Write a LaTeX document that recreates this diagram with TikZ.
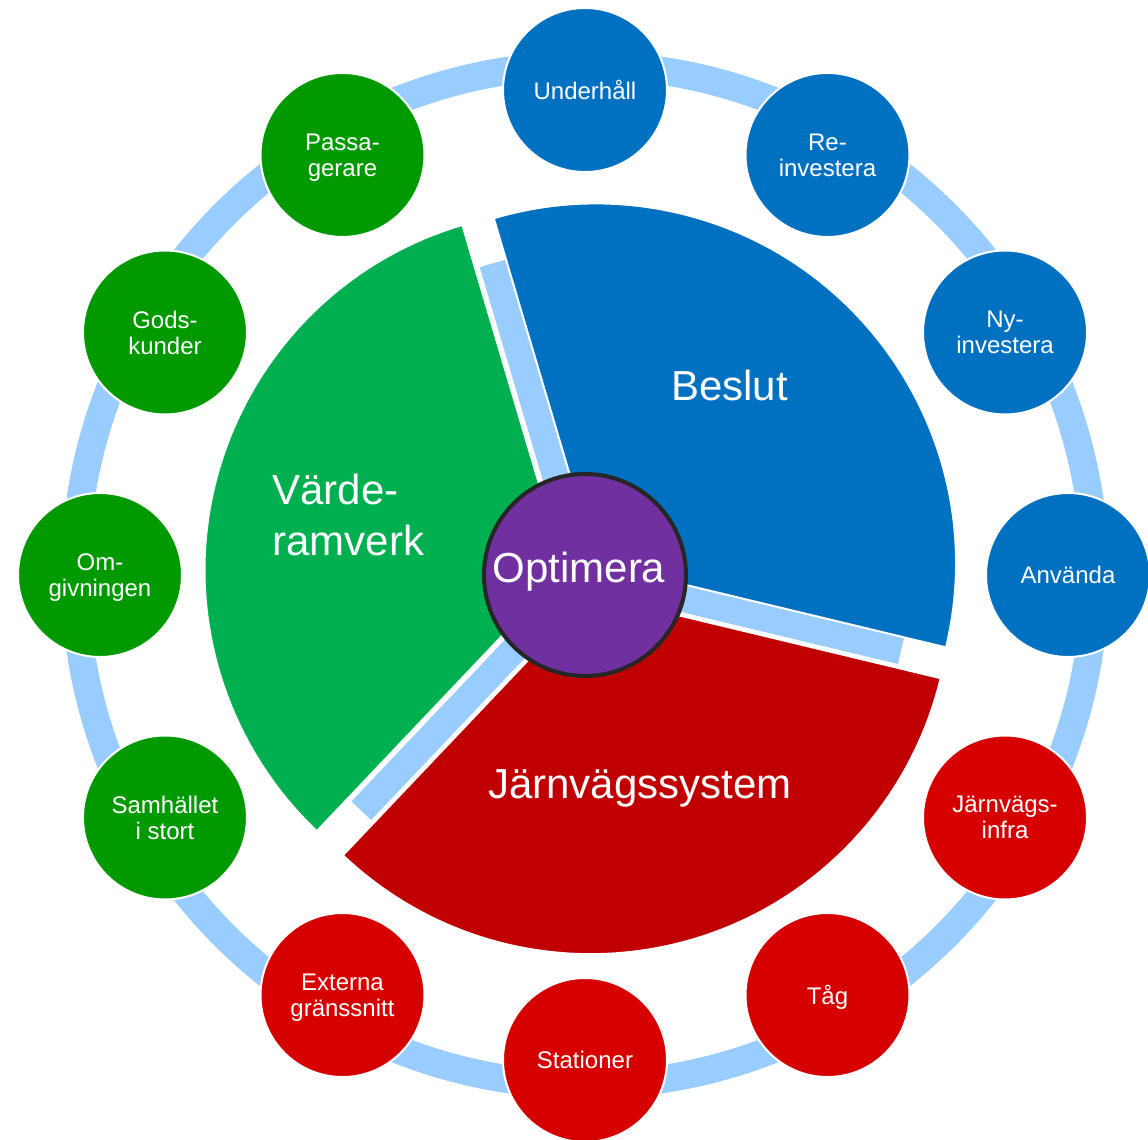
\documentclass[tikz,border=0pt]{standalone}
\usepackage{fontspec}
\setmainfont{Liberation Sans}
\definecolor{bluefill}{HTML}{0070C0}
\definecolor{redsector}{HTML}{C00000}
\definecolor{reditem}{HTML}{D60000}
\definecolor{greensector}{HTML}{00B050}
\definecolor{greenitem}{HTML}{009900}
\definecolor{ringblue}{HTML}{99CCFF}
\definecolor{hubpurple}{HTML}{7030A0}
\definecolor{hubedge}{HTML}{262626}
\begin{document}
\begin{tikzpicture}[x=0.5pt,y=0.5pt,
  ringitem/.style={circle, minimum size=82pt, inner sep=0pt, draw=white,
    line width=1pt, text=white, align=center, text depth=0pt,
    font=\fontsize{12}{12.85}\selectfont},
  sectorlabel/.style={inner sep=0pt, text=white, text depth=0pt,
    font=\fontsize{21}{25.5}\selectfont},
  spoke/.style={ringblue, line width=13.5pt},
  sector/.style={draw=white, line width=1pt}]
\useasboundingbox (-585,-565) rectangle (563,575);

% outer ring
\draw[ringblue, line width=14pt] (0,0) circle[radius=510];

% items on the ring
\node[ringitem, fill=bluefill]  (underhall) at (90:485)   {Underhåll};
\node[ringitem, fill=bluefill]  (reinv)     at (60:485)   {Re-\\investera};
\node[ringitem, fill=bluefill]  (nyinv)     at (30:485)   {Ny-\\investera};
\node[ringitem, fill=bluefill]  (anvanda)   at (0:483)    {Använda};
\node[ringitem, fill=reditem]   (infra)     at (-30:485)  {Järnvägs-\\infra};
\node[ringitem, fill=reditem]   (tag)       at (-60:485)  {Tåg};
\node[ringitem, fill=reditem]   (stationer) at (-90:485)  {Stationer};
\node[ringitem, fill=reditem]   (externa)   at (-120:485) {Externa\\gränssnitt};
\node[ringitem, fill=greenitem] (samhallet) at (-150:485) {Samhället\\i stort};
\node[ringitem, fill=greenitem] (omgiv)     at (180:485)  {Om-\\givningen};
\node[ringitem, fill=greenitem] (gods)      at (150:485)  {Gods-\\kunder};
\node[ringitem, fill=greenitem] (passa)     at (120:485)  {Passa-\\gerare};

% spokes in the gaps between the sectors
\coordinate (hubc) at (0,0);
\coordinate (spokeA) at (106.5:325);
\coordinate (spokeB) at (226.5:325);
\coordinate (spokeC) at (-13.5:325);
\draw[spoke] (hubc) -- (spokeA);
\draw[spoke] (hubc) -- (spokeB);
\draw[spoke] (hubc) -- (spokeC);

% exploded sectors
\path[sector, fill=bluefill] (46.5:16) -- ++(-13.5:360)
  arc[start angle=-13.5, end angle=106.5, radius=360] -- cycle;
\path[sector, fill=greensector] (166.5:21) -- ++(106.5:360)
  arc[start angle=106.5, end angle=226.5, radius=360] -- cycle;
\path[sector, fill=redsector] (286.5:20) -- ++(226.5:360)
  arc[start angle=226.5, end angle=346.5, radius=360] -- cycle;

% hub
\node[circle, minimum size=101pt, inner sep=0pt, fill=hubpurple,
  draw=hubedge, line width=2pt] (hub) at (hubc) {};

% sector labels
\node[sectorlabel] (optimera) at (-6,8) {Optimera};
\node[sectorlabel] (beslut) at (144.5,190) {Beslut};
\node[sectorlabel] (system) at (55,-209) {Järnvägssystem};
\node[sectorlabel, align=left, anchor=west] (varde) at (-313,60) {Värde-\\ramverk};
\end{tikzpicture}
\end{document}
